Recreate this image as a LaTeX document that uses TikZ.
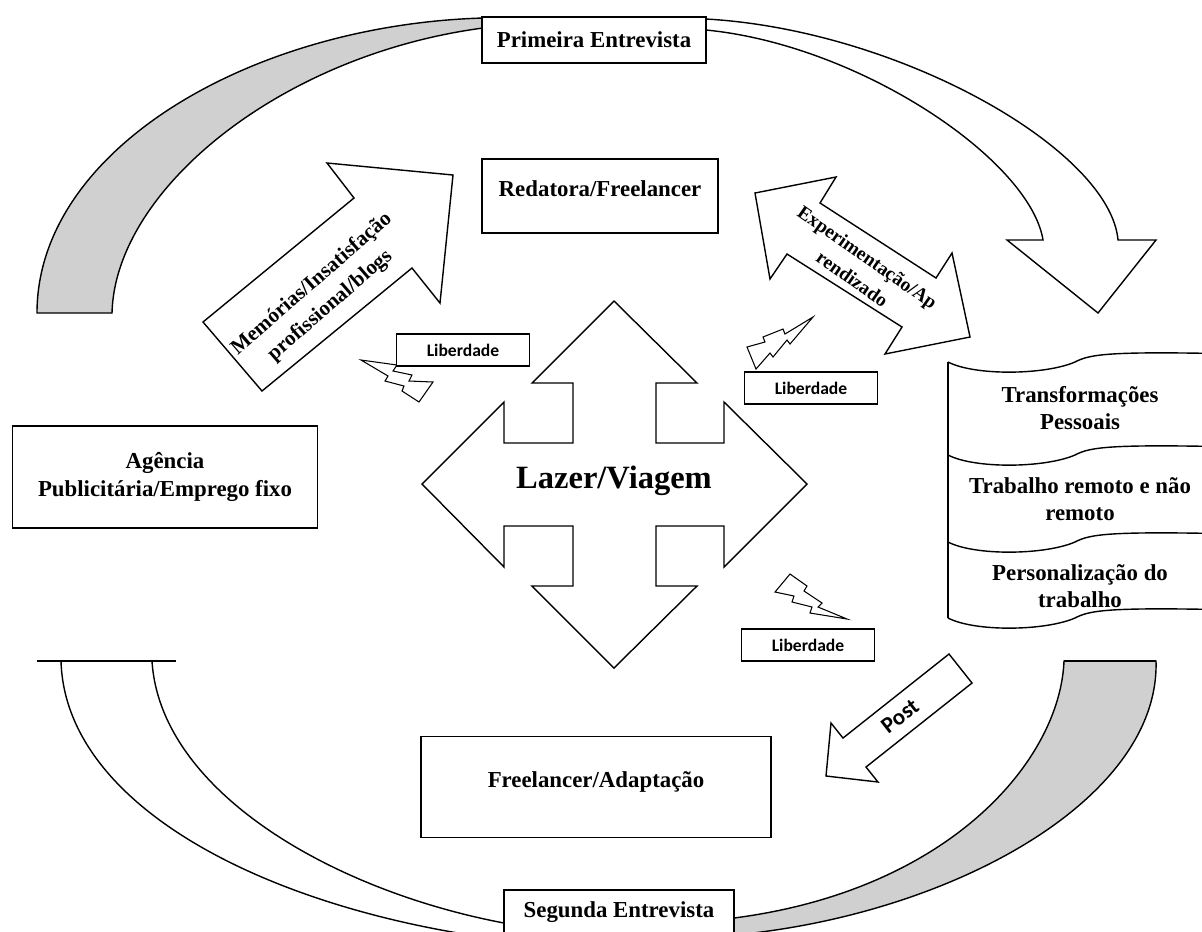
\documentclass[tikz,border=0pt]{standalone}
\usepackage{fontspec}
\setmainfont{Liberation Serif}
\newfontfamily\calibri{Carlito}
\usepackage{xcolor}
\usepackage{tikz}
\usetikzlibrary{positioning}

\definecolor{bandgray}{RGB}{208,208,208}

\tikzset{
  box/.style={draw, fill=white, line width=0.8pt, align=center, inner sep=0pt,
    font=\bfseries\fontsize{13}{15.5}\selectfont},
  libbox/.style={draw, fill=white, line width=0.6pt, inner sep=0pt,
    minimum width=2.66cm, minimum height=0.64cm,
    font=\calibri\bfseries\fontsize{10}{12}\selectfont},
  txt/.style={align=center, inner sep=0pt, font=\bfseries\fontsize{13}{15.5}\selectfont},
  shp/.style={draw, fill=white, line width=0.8pt, line join=miter},
  bolt/.style={draw, fill=white, line width=0.6pt},
  bar/.style={line width=1.6pt}
}

\begin{document}
\begin{tikzpicture}[x=0.02cm, y=-0.02cm]
\useasboundingbox (0,0) rectangle (1202,931);
\clip (0,0) rectangle (1202,931);

% upper curved arrow
\draw[shp, fill=bandgray] (483,18) .. controls (250,25) and (37,150) .. (37,313)
  -- (112,313) .. controls (115,190) and (280,55) .. (483,28) -- cycle;
\draw[shp] (706,30) .. controls (860,45) and (1030,160) .. (1043,240)
  -- (1007,240) -- (1098,313) -- (1156,240) -- (1118,240)
  .. controls (1110,150) and (900,30) .. (706,19) -- cycle;

% lower curved bands
\draw[shp] (61,661) .. controls (65,800) and (250,900) .. (470,935) -- (504,935)
  -- (504,923) .. controls (330,890) and (160,790) .. (152,661) -- cycle;
\draw[bar] (37,661) -- (176,661);
\draw[shp, fill=bandgray] (1156,661) .. controls (1160,800) and (950,915) .. (734,935)
  -- (734,918) .. controls (950,890) and (1060,760) .. (1064,661) -- cycle;
\draw[bar] (1064,661) -- (1156,661);

\node[box, minimum width=4.48cm, minimum height=0.92cm] (prim) at (594,40) {Primeira Entrevista};
\node[box, minimum width=4.6cm, minimum height=0.88cm] (segun) at (619,912) {Segunda Entrevista};
\node[box, minimum width=4.72cm, minimum height=1.48cm, text depth=0.31cm] (redat) at (600,196) {Redatora/Freelancer};
\node[box, minimum width=6.1cm, minimum height=2.04cm] (agenc) at (165,477) {Agência\\Publicitária/Emprego fixo};
\node[box, minimum width=7cm, minimum height=2.02cm, text depth=0.31cm] (freel) at (596,787) {Freelancer/Adaptação};

% side arrows
\draw[shp] (203,322) -- (354,198) -- (327,163) -- (453,175) -- (440,303) -- (412,268) -- (262,391) -- cycle;
\node[txt, rotate=41, font=\bfseries\fontsize{12}{16}\selectfont] (memo) at (321,295) {Memórias/Insatisfação\\profissional/blogs};

\draw[shp] (755,193) -- (836,177) -- (820,203) -- (936,278) -- (952,253) -- (970,337)
  -- (885,354) -- (902,327) -- (787,254) -- (770,279) -- cycle;
\node[txt, rotate=-35, font=\bfseries\fontsize{11}{15}\selectfont] (exper) at (860,268) {Experimentação/Ap\\rendizado};

\draw[shp] (949,654) -- (972,683) -- (866,767) -- (878,782) -- (826,776) -- (831,723) -- (843,738) -- cycle;
\node[txt, rotate=38, font=\calibri\bfseries\fontsize{13}{15}\selectfont] (post) at (900,716) {Post};

% centre
\draw[shp] (614,301) -- (697,383) -- (656,383) -- (656,443) -- (724,443) -- (724,402)
  -- (807,484) -- (724,567) -- (724,526) -- (656,526) -- (656,586) -- (697,586)
  -- (614,668) -- (532,586) -- (573,586) -- (573,526) -- (504,526) -- (504,567)
  -- (422,484) -- (504,402) -- (504,443) -- (573,443) -- (573,383) -- (532,383) -- cycle;
\node[txt, font=\bfseries\fontsize{18.5}{22}\selectfont] (lazer) at (614,481) {Lazer/Viagem};

% lightning + Liberdade
\draw[bolt] (361,360) -- (397,365) -- (393,371) -- (412,375) -- (409,381) -- (433,382)
  -- (419,402) -- (402,391) -- (404,386) -- (385,381) -- (388,376) -- cycle;
\draw[bolt] (756,369) -- (747,347) -- (765,342) -- (763,337) -- (783,329) -- (785,334)
  -- (813,317) -- (790,344) -- (787,340) -- (773,357) -- (770,353) -- cycle;
\draw[bolt] (790,574) -- (807,586) -- (804,591) -- (822,603) -- (818,607) -- (847,619)
  -- (810,613) -- (812,607) -- (792,602) -- (794,596) -- (775,592) -- cycle;
\node[libbox] (lib1) at (463,350) {Liberdade};
\node[libbox] (lib2) at (811,388) {Liberdade};
\node[libbox] (lib3) at (808,645) {Liberdade};

% scroll
\draw[line width=0.8pt] (948,362) -- (948,618);
\foreach \y in {362,455,542,618}
  \draw[line width=0.8pt] (948,\y) .. controls (975,\y+14) and (1045,\y+13) .. (1075,\y)
    .. controls (1090,\y-8) and (1110,\y-11) .. (1240,\y-8);
\node[txt] (trans) at (1080,408) {Transformações\\Pessoais};
\node[txt] (remot) at (1080,499) {Trabalho remoto e não\\remoto};
\node[txt] (perso) at (1080,586) {Personalização do\\trabalho};

\end{tikzpicture}
\end{document}
